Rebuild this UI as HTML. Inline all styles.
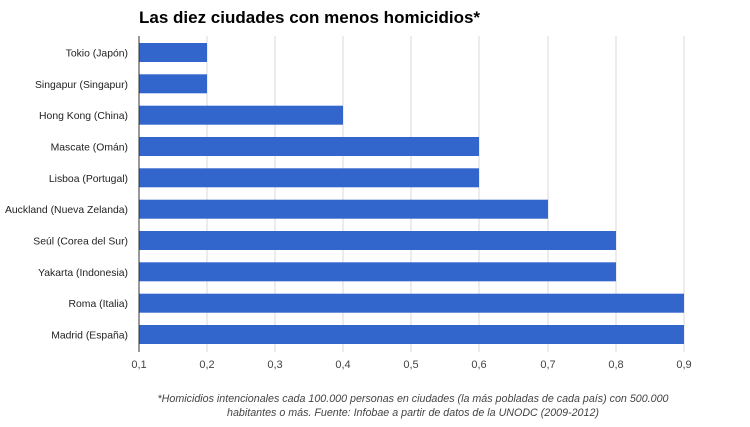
<!DOCTYPE html>
<html><head><meta charset="utf-8"><style>
body{margin:0;background:#fff;width:750px;height:422px;overflow:hidden}
</style></head><body>
<svg width="750" height="422" xmlns="http://www.w3.org/2000/svg" font-family="Liberation Sans, Arial, sans-serif">
<text x="139" y="23" font-size="17" font-weight="bold" fill="#000">Las diez ciudades con menos homicidios*</text>
<g stroke="#d9d9d9" stroke-width="1">
<line x1="207" y1="36" x2="207" y2="352"/><line x1="275" y1="36" x2="275" y2="352"/>
<line x1="343" y1="36" x2="343" y2="352"/><line x1="411" y1="36" x2="411" y2="352"/>
<line x1="479" y1="36" x2="479" y2="352"/><line x1="548" y1="36" x2="548" y2="352"/>
<line x1="616" y1="36" x2="616" y2="352"/><line x1="684" y1="36" x2="684" y2="352"/>
</g>
<g fill="#3366cc">
<rect x="139" y="43" width="68" height="19"/>
<rect x="139" y="74.3" width="68" height="19"/>
<rect x="139" y="105.7" width="204" height="19"/>
<rect x="139" y="137" width="340" height="19"/>
<rect x="139" y="168.3" width="340" height="19"/>
<rect x="139" y="199.7" width="409" height="19"/>
<rect x="139" y="231" width="477" height="19"/>
<rect x="139" y="262.3" width="477" height="19"/>
<rect x="139" y="293.7" width="545" height="19"/>
<rect x="139" y="325" width="545" height="19"/>
</g>
<line x1="139" y1="36" x2="139" y2="352" stroke="#333" stroke-width="1"/>
<g font-size="10.4" fill="#222" text-anchor="end">
<text x="128" y="56.5">Tokio (Japón)</text>
<text x="128" y="87.8">Singapur (Singapur)</text>
<text x="128" y="119.2">Hong Kong (China)</text>
<text x="128" y="150.5">Mascate (Omán)</text>
<text x="128" y="181.8">Lisboa (Portugal)</text>
<text x="128" y="213.2">Auckland (Nueva Zelanda)</text>
<text x="128" y="244.5">Seúl (Corea del Sur)</text>
<text x="128" y="275.8">Yakarta (Indonesia)</text>
<text x="128" y="307.2">Roma (Italia)</text>
<text x="128" y="338.5">Madrid (España)</text>
</g>
<g font-size="11" fill="#444" text-anchor="middle">
<text x="139" y="368">0,1</text><text x="207" y="368">0,2</text><text x="275" y="368">0,3</text>
<text x="343" y="368">0,4</text><text x="411" y="368">0,5</text><text x="479" y="368">0,6</text>
<text x="548" y="368">0,7</text><text x="616" y="368">0,8</text><text x="684" y="368">0,9</text>
</g>
<g font-size="10.7" fill="#444" font-style="italic" text-anchor="middle">
<text x="413" y="402">*Homicidios intencionales cada 100.000 personas en ciudades (la más pobladas de cada país) con 500.000</text>
<text x="413" y="416">habitantes o más. Fuente: Infobae a partir de datos de la UNODC (2009-2012)</text>
</g>
</svg>
</body></html>
